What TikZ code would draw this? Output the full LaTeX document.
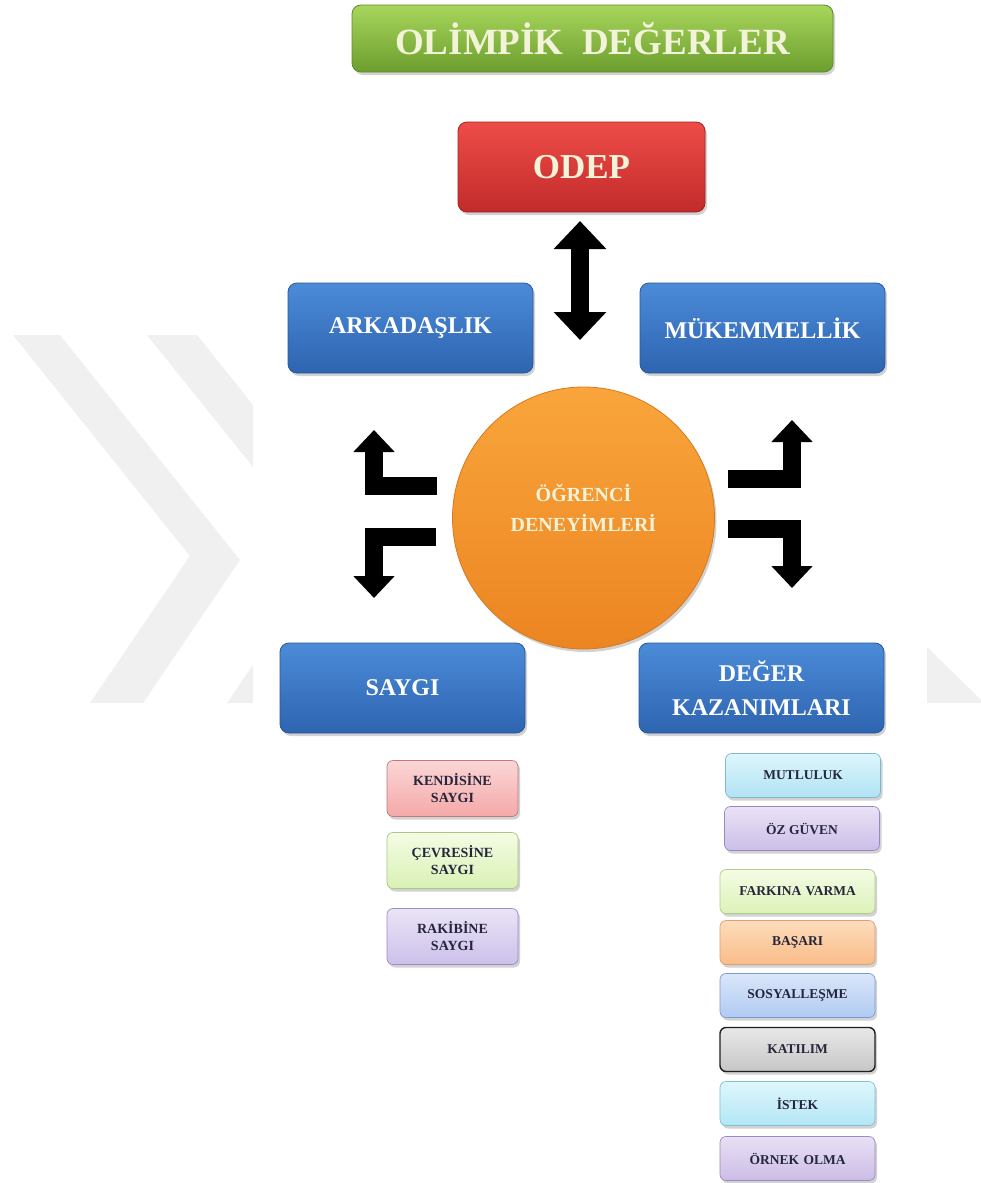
\documentclass[tikz,border=0pt]{standalone}
\usepackage{fontspec}
\setmainfont{Liberation Serif}
\usetikzlibrary{shadows,arrows.meta}
\definecolor{wm}{HTML}{F0F0F0}
\definecolor{gTop}{HTML}{A8D65C}\definecolor{gBot}{HTML}{6C9E2E}\definecolor{gDraw}{HTML}{5E8A2A}
\definecolor{rTop}{HTML}{EE4C47}\definecolor{rBot}{HTML}{C22B2B}\definecolor{rDraw}{HTML}{A02424}
\definecolor{bTop}{HTML}{4B8BD8}\definecolor{bBot}{HTML}{2E64B0}\definecolor{bDraw}{HTML}{2A5898}
\definecolor{oTop}{HTML}{F9A53C}\definecolor{oBot}{HTML}{EC8522}\definecolor{oDraw}{HTML}{D9791C}
\definecolor{cream}{HTML}{F3F3DA}
\definecolor{stext}{HTML}{25253C}
\tikzset{
  shad/.style={drop shadow={opacity=0.35,shadow xshift=2pt,shadow yshift=-3pt}},
  bigbox/.style={rounded corners=9pt, shad, line width=0.8pt, inner sep=0pt, align=center,
     minimum width=245pt, minimum height=90pt, draw=bDraw, top color=bTop, bottom color=bBot,
     text=white, font=\bfseries\fontsize{24}{34}\selectfont},
  smallbox/.style={rounded corners=6pt, shad, line width=0.7pt, inner sep=0pt, align=center,
     text=stext},
  leftbox/.style={smallbox, minimum width=131pt, minimum height=56pt, font=\bfseries\fontsize{14}{17}\selectfont},
  rightbox/.style={smallbox, minimum width=155pt, minimum height=44pt, font=\bfseries\fontsize{13.5}{17}\selectfont},
  blockarrow/.style={line width=18pt, line join=miter, line cap=butt, black,
     -{Triangle[width=40pt,length=22pt]}},
}
\begin{document}
\begin{tikzpicture}[x=1pt,y=-1pt]
\useasboundingbox (0,0) rectangle (981,1183);
\fill[white] (0,0) rectangle (981,1183);
% watermark chevrons
\fill[wm] (13,335) -- (60,335) -- (240,560) -- (143,703) -- (90,703) -- (190,556) -- cycle;
\fill[wm] (147,335) -- (197,335) -- (253,405) -- (253,467) -- cycle;
\fill[wm] (227,703) -- (253,703) -- (253,665) -- cycle;
\fill[wm] (927,647) -- (981,700) -- (981,703) -- (927,703) -- cycle;

% title and ODEP
\node[rounded corners=9pt, shad, line width=0.8pt, inner sep=0pt,
  minimum width=481pt, minimum height=67pt, draw=gDraw, top color=gTop, bottom color=gBot,
  text=cream, font=\bfseries\fontsize{37}{40}\selectfont] (title) at (592.5,38.5) {OLİMPİK\,\,\,DEĞERLER};
\node[rounded corners=9pt, shad, line width=0.8pt, inner sep=0pt,
  minimum width=247pt, minimum height=90pt, draw=rDraw, top color=rTop, bottom color=rBot,
  text=cream, font=\bfseries\fontsize{35}{38}\selectfont] (odep) at (581.5,167) {ODEP};

% blue boxes
\node[bigbox] (ark) at (410.5,328) {ARKADAŞLIK};
\node[bigbox] (muk) at (762.5,328) {MÜKEMMELLİK};
\node[bigbox] (say) at (402.5,688) {SAYGI};
\node[bigbox] (deg) at (761.5,688) {DEĞER\\KAZANIMLARI};

% center circle
\node[circle, shad, minimum size=262pt, inner sep=0pt, draw=oDraw, line width=0.8pt,
  top color=oTop, bottom color=oBot, align=center, text=cream, text depth=20pt,
  font=\bfseries\fontsize{20}{30}\selectfont] (ogr) at (583.5,518) {ÖĞRENCİ\\DENEYİMLERİ};

% arrows
\coordinate (dA) at (580,221);
\coordinate (dB) at (580,340);
\draw[line width=18pt, black, {Triangle[width=51pt,length=28pt]}-{Triangle[width=51pt,length=28pt]}] (dA) -- (dB);

\coordinate (ul0) at (437,486); \coordinate (ul1) at (374,486); \coordinate (ul2) at (374,430);
\draw[blockarrow] (ul0) -- (ul1) -- (ul2);
\coordinate (ll0) at (436,537); \coordinate (ll1) at (374,537); \coordinate (ll2) at (374,598);
\draw[blockarrow] (ll0) -- (ll1) -- (ll2);
\coordinate (ur0) at (728,479); \coordinate (ur1) at (792,479); \coordinate (ur2) at (792,420);
\draw[blockarrow] (ur0) -- (ur1) -- (ur2);
\coordinate (lr0) at (728,529); \coordinate (lr1) at (792,529); \coordinate (lr2) at (792,588);
\draw[blockarrow] (lr0) -- (lr1) -- (lr2);

% SAYGI sub boxes
\node[leftbox, draw={rgb,255:red,192;green,122;blue,122}, top color={rgb,255:red,251;green,214;blue,214}, bottom color={rgb,255:red,245;green,168;blue,168}] (s1) at (452.5,788.5) {KENDİSİNE\\SAYGI};
\node[leftbox, draw={rgb,255:red,168;green,200;blue,132}, top color={rgb,255:red,244;green,252;blue,228}, bottom color={rgb,255:red,218;green,241;blue,180}] (s2) at (452.5,860.5) {ÇEVRESİNE\\SAYGI};
\node[leftbox, draw={rgb,255:red,156;green,140;blue,196}, top color={rgb,255:red,234;green,228;blue,246}, bottom color={rgb,255:red,204;green,192;blue,234}] (s3) at (452.5,936.5) {RAKİBİNE\\SAYGI};

% DEGER sub boxes
\node[rightbox, draw={rgb,255:red,127;green,185;blue,207}, top color={rgb,255:red,222;green,246;blue,252}, bottom color={rgb,255:red,176;green,226;blue,244}] (d1) at (803,775.5) {MUTLULUK};
\node[rightbox, draw={rgb,255:red,150;green,136;blue,192}, top color={rgb,255:red,234;green,226;blue,246}, bottom color={rgb,255:red,204;green,190;blue,232}] (d2) at (802,828.5) {ÖZ GÜVEN};
\node[rightbox, draw={rgb,255:red,176;green,204;blue,140}, top color={rgb,255:red,244;green,252;blue,228}, bottom color={rgb,255:red,220;green,242;blue,184}] (d3) at (797.5,891.5) {FARKINA\,\,VARMA};
\node[rightbox, draw={rgb,255:red,221;green,160;blue,112}, top color={rgb,255:red,253;green,220;blue,188}, bottom color={rgb,255:red,249;green,188;blue,136}] (d4) at (797.5,942.5) {BAŞARI};
\node[rightbox, draw={rgb,255:red,124;green,154;blue,208}, top color={rgb,255:red,218;green,230;blue,250}, bottom color={rgb,255:red,176;green,202;blue,242}] (d5) at (797.5,995.5) {SOSYALLEŞME};
\node[rightbox, draw={rgb,255:red,30;green,30;blue,30}, line width=1.4pt, top color={rgb,255:red,232;green,232;blue,232}, bottom color={rgb,255:red,198;green,198;blue,198}] (d6) at (797.5,1049.5) {KATILIM};
\node[rightbox, draw={rgb,255:red,128;green,192;blue,214}, top color={rgb,255:red,222;green,247;blue,252}, bottom color={rgb,255:red,178;green,230;blue,245}] (d7) at (797.5,1103.5) {İSTEK};
\node[rightbox, draw={rgb,255:red,156;green,138;blue,192}, top color={rgb,255:red,232;green,224;blue,244}, bottom color={rgb,255:red,204;green,188;blue,230}] (d8) at (797.5,1158.5) {ÖRNEK\,\,OLMA};
\end{tikzpicture}
\end{document}
